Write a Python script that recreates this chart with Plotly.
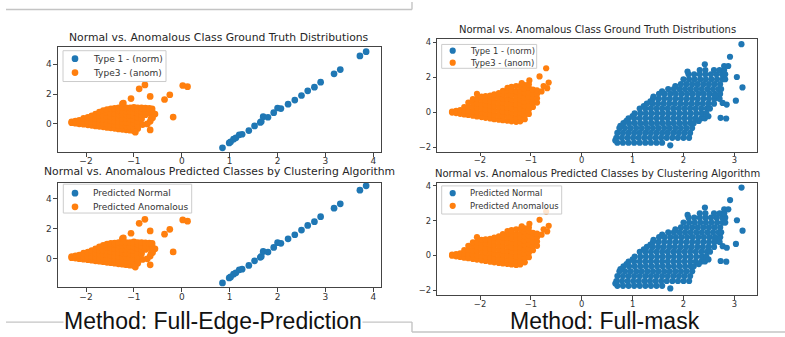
import plotly.graph_objects as go

W, H = 785, 337

# ---------------- Method: Full-Edge-Prediction (left column) ----------------
fep_norm_x = [0.85, 0.99, 1.02, 1.08, 1.13, 1.20, 1.26, 1.40, 1.52, 1.64, 1.66, 1.70, 1.80,
              1.92, 2.00, 2.07, 2.22, 2.36, 2.50, 2.63, 2.77, 2.90, 3.18, 3.31, 3.72, 3.85]
fep_norm_y = [-1.60, -1.27, -1.20, -1.02, -0.93, -0.73, -0.69, -0.44, -0.13, 0.10, 0.16, 0.49, 0.45,
              0.76, 1.07, 1.03, 1.33, 1.60, 1.91, 2.22, 2.47, 2.80, 3.36, 3.65, 4.56, 4.85]

# anomalous cluster, read column by column: (x, [y values])
fep_anom_columns = [
    (-2.30, [0.08, 0.15]),
    (-2.22, [0.05, 0.20]),
    (-2.14, [0.01, 0.25]),
    (-2.05, [-0.02, 0.20, 0.38]),
    (-1.96, [-0.06, 0.18, 0.45]),
    (-1.88, [-0.09, 0.15, 0.40, 0.55]),
    (-1.80, [-0.13, 0.12, 0.38, 0.66]),
    (-1.72, [-0.16, 0.08, 0.33, 0.58, 0.80]),
    (-1.64, [-0.19, 0.05, 0.30, 0.55, 0.90]),
    (-1.56, [-0.23, 0.02, 0.27, 0.52, 0.77, 0.97]),
    (-1.48, [-0.26, -0.01, 0.24, 0.49, 0.74, 1.02]),
    (-1.40, [-0.29, -0.04, 0.21, 0.46, 0.71, 0.96, 1.05]),
    (-1.32, [-0.33, -0.08, 0.17, 0.42, 0.67, 0.92, 1.08]),
    (-1.24, [-0.36, -0.11, 0.14, 0.39, 0.64, 0.89, 1.10, 1.35]),
    (-1.16, [-0.39, -0.14, 0.11, 0.36, 0.61, 0.86, 1.08]),
    (-1.08, [-0.42, -0.17, 0.08, 0.33, 0.58, 0.83, 1.08]),
    (-1.00, [-0.45, -0.20, 0.05, 0.30, 0.55, 0.80, 1.05, 1.12]),
    (-0.92, [-0.30, -0.05, 0.20, 0.45, 0.70, 0.95, 1.08]),
    (-0.84, [0.35, 0.60, 0.85, 1.08]),
    (-0.76, [0.62, 0.86, 1.06]),
    (-0.68, [0.75, 1.04]),
    (-0.62, [0.85, 1.02]),
]
fep_anom_extra_x = [-0.97, -0.89, -0.77, -0.66, -1.06, -0.36, -0.25, 0.02, 0.12, -0.18,
                    -0.56, -0.64, -0.61, -0.72, -0.82, -0.66, -0.66, -1.22]
fep_anom_extra_y = [-0.55, 2.36, 2.62, 1.85, 1.70, 1.64, 1.96, 2.58, 2.50, 0.46,
                    0.67, 0.36, 0.42, 0.00, -0.04, -0.40, 0.18, 1.40]

# ---------------- Method: Full-mask (right column) ----------------
# normal cluster, read row by row: (y, [x values])
fm_norm_rows = [
    (-1.75, [0.70, 0.81, 0.92, 1.03, 1.14, 1.25, 1.36, 1.47, 1.58]),
    (-1.47, [0.68, 0.79, 0.90, 1.01, 1.12, 1.23, 1.34, 1.45, 1.56, 1.67, 1.78, 1.89, 2.00, 2.11]),
    (-1.19, [0.70, 0.81, 0.92, 1.03, 1.14, 1.25, 1.36, 1.47, 1.58, 1.69, 1.80, 1.91, 2.02, 2.13]),
    (-0.91, [0.74, 0.85, 0.96, 1.07, 1.18, 1.29, 1.40, 1.51, 1.62, 1.73, 1.84, 1.95, 2.06, 2.17]),
    (-0.63, [0.82, 0.93, 1.04, 1.15, 1.26, 1.37, 1.48, 1.59, 1.70, 1.81, 1.92, 2.03, 2.14, 2.20]),
    (-0.35, [0.92, 1.03, 1.14, 1.25, 1.36, 1.47, 1.58, 1.69, 1.80, 1.91, 2.02, 2.13, 2.24, 2.35, 2.42]),
    (-0.07, [1.04, 1.15, 1.26, 1.37, 1.48, 1.59, 1.70, 1.81, 1.92, 2.03, 2.14, 2.25, 2.36, 2.45]),
    (0.21, [1.14, 1.25, 1.36, 1.47, 1.58, 1.69, 1.80, 1.91, 2.02, 2.13, 2.24, 2.35, 2.46, 2.52]),
    (0.49, [1.28, 1.39, 1.50, 1.61, 1.72, 1.83, 1.94, 2.05, 2.16, 2.27, 2.38, 2.49, 2.60]),
    (0.77, [1.40, 1.51, 1.62, 1.73, 1.84, 1.95, 2.06, 2.17, 2.28, 2.39, 2.50, 2.61, 2.71]),
    (1.05, [1.52, 1.63, 1.74, 1.85, 1.96, 2.07, 2.18, 2.29, 2.40, 2.51, 2.62, 2.72]),
    (1.33, [1.70, 1.81, 1.92, 2.03, 2.14, 2.25, 2.36, 2.47, 2.58, 2.69, 2.74]),
    (1.61, [1.95, 2.06, 2.17, 2.28, 2.39, 2.50, 2.61, 2.72]),
    (1.89, [2.00, 2.11, 2.22, 2.33, 2.44, 2.55, 2.66, 2.77, 2.82]),
    (2.17, [2.10, 2.21, 2.32, 2.43, 2.54, 2.65, 2.76, 2.82]),
    (2.42, [2.32, 2.43, 2.60, 2.71, 2.80]),
]
fm_norm_extra_x = [1.74, 0.66, 2.73, 2.84, 2.49, 2.77, 2.85, 3.03, 3.16, 3.05,
                   2.42, 2.80, 2.88, 2.915, 3.14, 1.41, 2.08,
                   0.76, 0.88, 1.00, 1.22, 1.35, 1.58, 1.84, 2.30, 2.62]
fm_norm_extra_y = [-1.90, -1.62, -0.32, -0.36, -0.23, 0.53, 0.44, 0.66, 1.42, 2.02,
                   2.75, 2.65, 2.65, 3.18, 3.90, 0.90, 2.33,
                   -0.78, -0.50, -0.22, 0.35, 0.62, 1.20, 1.50, -0.50, 0.95]

# anomalous cluster, read column by column: (x, [y values])
fm_anom_columns = [
    (-2.55, [-0.02, 0.04]),
    (-2.47, [-0.05, 0.08]),
    (-2.39, [-0.09, 0.12]),
    (-2.31, [-0.13, 0.10, 0.30]),
    (-2.23, [-0.16, 0.08, 0.32, 0.55]),
    (-2.14, [-0.20, 0.05, 0.30, 0.55, 0.75]),
    (-2.06, [-0.24, 0.01, 0.26, 0.51, 0.76, 1.05]),
    (-1.97, [-0.28, -0.03, 0.22, 0.47, 0.72, 0.90]),
    (-1.89, [-0.32, -0.07, 0.18, 0.43, 0.68, 0.92]),
    (-1.80, [-0.36, -0.11, 0.14, 0.39, 0.64, 0.89, 0.95]),
    (-1.72, [-0.40, -0.15, 0.10, 0.35, 0.60, 0.85, 1.02]),
    (-1.63, [-0.43, -0.18, 0.07, 0.32, 0.57, 0.82, 1.10]),
    (-1.55, [-0.46, -0.21, 0.04, 0.29, 0.54, 0.79, 1.04, 1.22]),
    (-1.46, [-0.49, -0.24, 0.01, 0.26, 0.51, 0.76, 1.01, 1.26, 1.40]),
    (-1.38, [-0.52, -0.27, -0.02, 0.23, 0.48, 0.73, 0.98, 1.23, 1.45]),
    (-1.29, [-0.55, -0.30, -0.05, 0.20, 0.45, 0.70, 0.95, 1.20, 1.50]),
    (-1.21, [-0.52, -0.27, -0.02, 0.23, 0.48, 0.73, 0.98, 1.23, 1.50]),
    (-1.12, [-0.40, -0.15, 0.10, 0.35, 0.60, 0.85, 1.10, 1.35, 1.55]),
    (-1.04, [-0.10, 0.15, 0.40, 0.65, 0.90, 1.15, 1.40, 1.60]),
    (-0.96, [0.30, 0.55, 0.80, 1.05, 1.30]),
    (-0.88, [0.55, 0.80, 1.05, 1.25]),
]
fm_anom_extra_x = [-0.70, -0.83, -0.65, -0.68, -0.79, -1.03, -1.18, -0.75]
fm_anom_extra_y = [2.52, 2.05, 1.70, 1.38, 1.19, 1.82, 1.67, 1.50]

# ---------------- text ----------------
top_title = "Normal vs. Anomalous Class Ground Truth Distributions"
bottom_title = "Normal vs. Anomalous Predicted Classes by Clustering Algorithm"
top_legend = ["Type 1 - (norm)", "Type3 - (anom)"]
bottom_legend = ["Predicted Normal", "Predicted Anomalous"]
captions = ["Method: Full-Edge-Prediction", "Method: Full-mask"]
fep_xticks = [-2, -1, 0, 1, 2, 3, 4]
fep_yticks = [0, 2, 4]
fm_xticks = [-2, -1, 0, 1, 2, 3]
fm_yticks = [-2, 0, 2, 4]

BLUE = "#1f77b4"
ORANGE = "#ff7f0e"
FONT = "DejaVu Sans"


def from_columns(cols, ex_x, ex_y):
    xs, ys = [], []
    for x, yl in cols:
        for y in yl:
            xs.append(x)
            ys.append(y)
    return xs + ex_x, ys + ex_y


def from_rows(rows, ex_x, ex_y):
    xs, ys = [], []
    for y, xl in rows:
        for x in xl:
            xs.append(x)
            ys.append(y)
    return xs + ex_x, ys + ex_y


fep_anom_x, fep_anom_y = from_columns(fep_anom_columns, fep_anom_extra_x, fep_anom_extra_y)
fm_norm_x, fm_norm_y = from_rows(fm_norm_rows, fm_norm_extra_x, fm_norm_extra_y)
fm_anom_x, fm_anom_y = from_columns(fm_anom_columns, fm_anom_extra_x, fm_anom_extra_y)

px = lambda v: v / W
py = lambda v: 1 - v / H

panels = [
    dict(norm=(fep_norm_x, fep_norm_y), anom=(fep_anom_x, fep_anom_y), title=top_title,
         labels=top_legend, dx=(58, 380.5), dy=(45, 151), xr=(-2.585, 4.15), yr=(-1.887, 5.18),
         xt=fep_xticks, yt=fep_yticks, fs=9, ts=10.8, ms=6.7, ty=35.5,
         box=(63, 49, 166, 80), ent=(57, 71), mx=75, tx=91),
    dict(norm=(fm_norm_x, fm_norm_y), anom=(fm_anom_x, fm_anom_y), title=top_title,
         labels=top_legend, dx=(437.3, 756.7), dy=(37.7, 150.7), xr=(-2.84, 3.44), yr=(-2.27, 4.17),
         xt=fm_xticks, yt=fm_yticks, fs=8.4, ts=10, ms=6.2, ty=28,
         box=(441.7, 42.7, 536.7, 66.7), ent=(49, 61), mx=452.7, tx=467.5),
    dict(norm=(fep_norm_x, fep_norm_y), anom=(fep_anom_x, fep_anom_y), title=bottom_title,
         labels=bottom_legend, dx=(58, 380.5), dy=(182, 287), xr=(-2.585, 4.15), yr=(-1.89, 5.04),
         xt=fep_xticks, yt=fep_yticks, fs=9, ts=10.8, ms=6.7, ty=171,
         box=(63.3, 183.3, 191.7, 212.3), ent=(192.3, 206), mx=75, tx=91),
    dict(norm=(fm_norm_x, fm_norm_y), anom=(fm_anom_x, fm_anom_y), title=bottom_title,
         labels=bottom_legend, dx=(437.3, 757.3), dy=(182.3, 295), xr=(-2.84, 3.45), yr=(-2.29, 4.15),
         xt=fm_xticks, yt=fm_yticks, fs=8.4, ts=10, ms=6.2, ty=173,
         box=(441.7, 185, 561.7, 213.3), ent=(192.3, 205), mx=452.7, tx=467.5),
]

fig = go.Figure()
layout = dict(width=W, height=H, margin=dict(l=0, r=0, t=0, b=0),
              paper_bgcolor="white", plot_bgcolor="white", showlegend=False)
annotations, shapes = [], []

for i, p in enumerate(panels, start=1):
    sx = "" if i == 1 else str(i)
    for (xs, ys), col, name in ((p["norm"], BLUE, p["labels"][0]), (p["anom"], ORANGE, p["labels"][1])):
        fig.add_trace(go.Scatter(x=xs, y=ys, mode="markers", name=name,
                                 marker=dict(color=col, size=p["ms"], line=dict(width=0)),
                                 xaxis="x" + sx, yaxis="y" + sx, hoverinfo="skip"))
    common = dict(showgrid=False, zeroline=False, showline=True, mirror=True,
                  linecolor="#444444", linewidth=1.1, ticks="outside", ticklen=3.5,
                  tickwidth=1, tickcolor="#444444",
                  tickfont=dict(family=FONT, size=p["fs"], color="#333333"), fixedrange=True)
    layout["xaxis" + sx] = dict(common, domain=[px(p["dx"][0]), px(p["dx"][1])],
                                range=list(p["xr"]), tickvals=p["xt"], anchor="y" + sx,
                                ticklabelstandoff=-3)
    layout["yaxis" + sx] = dict(common, domain=[py(p["dy"][1]), py(p["dy"][0])],
                                range=list(p["yr"]), tickvals=p["yt"], anchor="x" + sx)
    # title
    annotations.append(dict(text=p["title"], xref="paper", yref="paper",
                            x=px((p["dx"][0] + p["dx"][1]) / 2), y=py(p["ty"]),
                            xanchor="center", yanchor="middle", showarrow=False, borderpad=0,
                            font=dict(family=FONT, size=p["ts"], color="#262626")))
    # legend box
    bx0, by0, bx1, by1 = p["box"]
    shapes.append(dict(type="rect", xref="paper", yref="paper", layer="above",
                       x0=px(bx0), x1=px(bx1), y0=py(by1), y1=py(by0),
                       fillcolor="rgba(255,255,255,0.8)", line=dict(color="#cccccc", width=1)))
    r = p["ms"] / 2
    for ey, col, lab in zip(p["ent"], (BLUE, ORANGE), p["labels"]):
        shapes.append(dict(type="circle", xref="paper", yref="paper", layer="above",
                           xsizemode="pixel", ysizemode="pixel",
                           xanchor=px(p["mx"]), yanchor=py(ey),
                           x0=-r, x1=r, y0=-r, y1=r, fillcolor=col, line=dict(width=0)))
        annotations.append(dict(text=lab, xref="paper", yref="paper", x=px(p["tx"]), y=py(ey),
                                xanchor="left", yanchor="middle", showarrow=False,
                                font=dict(family=FONT, size=p["fs"], color="#333333")))

# page separator lines
sep = dict(color="#c4c4c4", width=1.4)
for (x0, y0, x1, y1) in [(6, 7.5, 412, 7.5), (412, 0, 412, 7.5),
                         (6, 322, 412, 322), (412, 322, 412, 332), (412, 332, 785, 332)]:
    shapes.append(dict(type="line", xref="paper", yref="paper", layer="below",
                       x0=px(x0), x1=px(x1), y0=py(y0), y1=py(y1), line=sep))

# captions
annotations.append(dict(text=captions[0], xref="paper", yref="paper", x=px(213), y=py(321),
                        xanchor="center", yanchor="middle", showarrow=False, bgcolor="white",
                        borderpad=0, font=dict(family="Liberation Sans", size=23, color="#111111")))
annotations.append(dict(text=captions[1], xref="paper", yref="paper", x=px(605), y=py(321),
                        xanchor="center", yanchor="middle", showarrow=False,
                        font=dict(family="Liberation Sans", size=23, color="#111111")))

layout["annotations"] = annotations
layout["shapes"] = shapes
fig.update_layout(**layout)
fig.write_html("out.html")
